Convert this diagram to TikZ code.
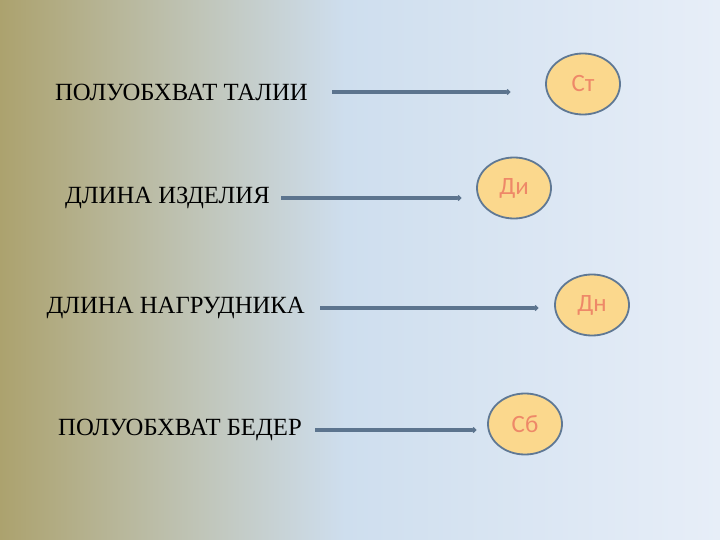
\documentclass[tikz,border=0pt]{standalone}
\usepackage{fontspec}
\setmainfont{Liberation Serif}
\newfontfamily\markfont{Carlito}
\usetikzlibrary{arrows.meta}
\usetikzlibrary{shapes.geometric}
\usetikzlibrary{positioning}
\definecolor{bgleft}{RGB}{172,162,110}
\definecolor{bgmid}{RGB}{206,222,238}
\definecolor{bgright}{RGB}{231,238,248}
\definecolor{ovalfill}{RGB}{251,216,141}
\definecolor{ovaldraw}{RGB}{95,120,148}
\definecolor{ovaltext}{RGB}{238,136,104}
\definecolor{linkcol}{RGB}{92,116,142}
\tikzstyle{link} = [line width=3.8bp, draw=linkcol, -{Circle[length=5bp]}]
\tikzstyle{meas} = [inner sep=0pt, anchor=east, font=\fontsize{24.8}{28}\selectfont]
\tikzstyle{oval} = [ellipse, draw=ovaldraw, line width=1.8bp, fill=ovalfill, minimum width=74bp, minimum height=61bp, inner sep=0pt, text=ovaltext, font=\markfont\fontsize{25}{28}\selectfont]

\begin{document}
\begin{tikzpicture}[x=1bp, y=-1bp]
		\useasboundingbox (0,0) rectangle (720,540);
		\shade [left color=bgleft, right color=bgmid] (0,0) rectangle (345,540);
		\shade [left color=bgmid, right color=bgright] (345,0) rectangle (720,540);
		\node (waist) [meas] at (308,92) {ПОЛУОБХВАТ ТАЛИИ};
		\node (length) [meas] at (270,198) {ДЛИНА ИЗДЕЛИЯ};
		\node (bib) [meas] at (305,308) {ДЛИНА НАГРУДНИКА};
		\node (hips) [meas] at (302,430) {ПОЛУОБХВАТ БЕДЕР};
		\node (st) [oval] at (583,84) {Ст};
		\node (di) [oval] at (514,188) {Ди};
		\node (dn) [oval] at (592,305) {Дн};
		\node (sb) [oval] at (525,424) {Сб};
		\draw [link, shorten <=24bp, shorten >=35bp] (waist.east) -- (waist.east -| st.west);
		\draw [link, shorten <=11bp, shorten >=15bp] (length.east) -- (length.east -| di.west);
		\draw [link, shorten <=15bp, shorten >=16bp] (bib.east) -- (bib.east -| dn.west);
		\draw [link, shorten <=13bp, shorten >=11bp] (hips.east) -- (hips.east -| sb.west);
\end{tikzpicture}
\end{document}
